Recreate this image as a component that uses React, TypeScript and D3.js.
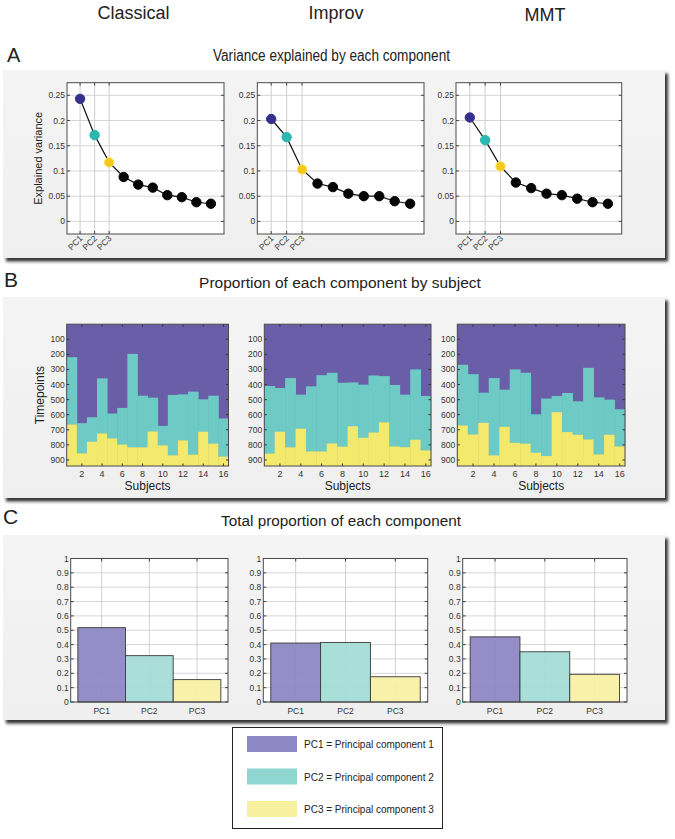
import React from "react";
import * as d3 from "d3";

// ---------- DATA ----------
const groups = ["Classical", "Improv", "MMT"];
const componentLabels = ["PC1", "PC2", "PC3"];
const legendLabels = [
  "PC1 = Principal component 1",
  "PC2 = Principal component 2",
  "PC3 = Principal component 3",
];

// Panel A: variance explained by components 1..10
const varClassical = [0.243, 0.171, 0.117, 0.088, 0.073, 0.067, 0.052, 0.048, 0.038, 0.035];
const varImprov = [0.203, 0.167, 0.103, 0.075, 0.068, 0.055, 0.05, 0.05, 0.04, 0.035];
const varMMT = [0.206, 0.161, 0.109, 0.077, 0.066, 0.055, 0.052, 0.045, 0.038, 0.035];
const varTicks = [0, 0.05, 0.1, 0.15, 0.2, 0.25];

// Panel B: timepoint where PC2 starts and where PC3 starts, per subject (1..16)
const subjects = d3.range(1, 17);
const pc2StartClassical = [219, 656, 617, 359, 592, 555, 197, 474, 487, 674, 469, 465, 447, 498, 474, 625];
const pc3StartClassical = [665, 856, 779, 724, 757, 798, 816, 816, 711, 803, 869, 770, 865, 713, 792, 878];
const pc2StartImprov = [410, 423, 357, 467, 412, 338, 322, 388, 386, 401, 340, 344, 403, 467, 300, 476];
const pc3StartImprov = [858, 713, 816, 693, 843, 843, 790, 812, 676, 753, 718, 650, 810, 815, 766, 836];
const pc2StartMMT = [269, 331, 454, 357, 434, 300, 322, 597, 493, 476, 456, 511, 289, 485, 500, 564];
const pc3StartMMT = [671, 731, 654, 869, 680, 786, 792, 852, 874, 583, 715, 733, 764, 863, 733, 810];
const totalTimepoints = 940;
const timeTicks = [100, 200, 300, 400, 500, 600, 700, 800, 900];
const subjectTicks = [2, 4, 6, 8, 10, 12, 14, 16];

// Panel C: total proportion of each component
const totalClassical = [0.518, 0.323, 0.156];
const totalImprov = [0.411, 0.415, 0.176];
const totalMMT = [0.454, 0.35, 0.193];
const propTicks = [0, 0.1, 0.2, 0.3, 0.4, 0.5, 0.6, 0.7, 0.8, 0.9, 1];

// ---------- STYLE ----------
const FONT = "'Liberation Sans', Arial, Helvetica, sans-serif";
const pointColors = ["#35308c", "#2bb8b1", "#f5c81e"];
const areaColors = ["#6a5ea9", "#6ecac4", "#f3ea6d"];
const barColors = ["#8d84c2", "#a2dbd6", "#f6f0a3"];
const legendColors = ["#8f88c6", "#8ed6cf", "#f6f09f"];

const varSets = [varClassical, varImprov, varMMT];
const pc2Sets = [pc2StartClassical, pc2StartImprov, pc2StartMMT];
const pc3Sets = [pc3StartClassical, pc3StartImprov, pc3StartMMT];
const totalSets = [totalClassical, totalImprov, totalMMT];

const aFrames = [
  [67, 224],
  [257.3, 424],
  [456, 621.7],
];
const bFrames = [
  [66.7, 228.5],
  [264.3, 431],
  [457.3, 625],
];
const cFrames = [
  [70.7, 228],
  [263.3, 427.7],
  [462.7, 627],
];

function fmt(v: number) {
  return d3.format("~g")(+v.toFixed(2));
}

function PanelA({ idx }: { idx: number }) {
  const [x0, x1] = aFrames[idx];
  const top = 82.7,
    bottom = 234;
  const x = d3.scaleLinear().domain([0.1, 10.9]).range([x0, x1]);
  const y = d3.scaleLinear().domain([-0.025, 0.275]).range([bottom, top]);
  const data = varSets[idx];
  const line = d3
    .line<number>()
    .x((_, i) => x(i + 1))
    .y((d) => y(d));
  return (
    <g>
      <rect x={x0} y={top} width={x1 - x0} height={bottom - top} fill="#fff" />
      {varTicks.map((t) => (
        <line key={"h" + t} x1={x0} x2={x1} y1={y(t)} y2={y(t)} stroke="#d6d6d6" strokeWidth={1} />
      ))}
      {[1, 2, 3].map((t) => (
        <line key={"v" + t} x1={x(t)} x2={x(t)} y1={top} y2={bottom} stroke="#cfcfcf" strokeWidth={1} />
      ))}
      {varTicks.map((t) => (
        <g key={"t" + t}>
          <line x1={x0} x2={x0 + 3} y1={y(t)} y2={y(t)} stroke="#444" />
          <line x1={x1} x2={x1 - 3} y1={y(t)} y2={y(t)} stroke="#444" />
          <text x={x0 - 2} y={y(t) + 3} fontSize={8.5} textAnchor="end" fill="#333" fontFamily={FONT}>
            {fmt(t)}
          </text>
        </g>
      ))}
      {[1, 2, 3].map((t, i) => (
        <g key={"xt" + t}>
          <line x1={x(t)} x2={x(t)} y1={bottom} y2={bottom - 3} stroke="#444" />
          <line x1={x(t)} x2={x(t)} y1={top} y2={top + 3} stroke="#444" />
          <text
            transform={`translate(${x(t) + 3},${bottom + 5}) rotate(-45)`}
            fontSize={8.5}
            textAnchor="end"
            fill="#333"
            fontFamily={FONT}
          >
            {componentLabels[i]}
          </text>
        </g>
      ))}
      <rect x={x0} y={top} width={x1 - x0} height={bottom - top} fill="none" stroke="#4a4a4a" strokeWidth={1} />
      <path d={line(data) || ""} fill="none" stroke="#111" strokeWidth={1.2} />
      {data.map((d, i) => (
        <circle
          key={i}
          cx={x(i + 1)}
          cy={y(d)}
          r={4.7}
          fill={i < 3 ? pointColors[i] : "#050505"}
          stroke={i === 2 ? "#fbe54a" : i < 3 ? pointColors[i] : "#050505"}
          strokeWidth={1}
        />
      ))}
      {idx === 0 && (
        <text
          transform={`translate(42,${(top + bottom) / 2}) rotate(-90)`}
          fontSize={11}
          textAnchor="middle"
          fill="#222"
          fontFamily={FONT}
        >
          Explained variance
        </text>
      )}
    </g>
  );
}

function PanelB({ idx }: { idx: number }) {
  const [x0, x1] = bFrames[idx];
  const top = 324.2,
    bottom = 466;
  const x = d3.scaleLinear().domain([0.5, 16.5]).range([x0, x1]);
  const y = d3.scaleLinear().domain([0, totalTimepoints]).range([top, bottom]);
  const p2 = pc2Sets[idx];
  const p3 = pc3Sets[idx];
  return (
    <g>
      <rect x={x0} y={top} width={x1 - x0} height={bottom - top} fill={areaColors[0]} />
      {subjects.map((s, i) => (
        <g key={s}>
          <rect
            x={x(s - 0.5)}
            width={x(s + 0.5) - x(s - 0.5) + 0.4}
            y={y(p2[i])}
            height={y(p3[i]) - y(p2[i]) + 0.4}
            fill={areaColors[1]}
          />
          <rect
            x={x(s - 0.5)}
            width={x(s + 0.5) - x(s - 0.5) + 0.4}
            y={y(p3[i])}
            height={bottom - y(p3[i])}
            fill={areaColors[2]}
          />
        </g>
      ))}
      {timeTicks.map((t) => (
        <g key={t}>
          <line x1={x0} x2={x0 + 2.5} y1={y(t)} y2={y(t)} stroke="#333" />
          <line x1={x1} x2={x1 - 2.5} y1={y(t)} y2={y(t)} stroke="#333" />
          <text x={x0 - 2} y={y(t) + 3} fontSize={8.5} textAnchor="end" fill="#333" fontFamily={FONT}>
            {t}
          </text>
        </g>
      ))}
      {subjectTicks.map((t) => (
        <g key={"s" + t}>
          <line x1={x(t)} x2={x(t)} y1={top} y2={top + 2.5} stroke="#333" />
          <line x1={x(t)} x2={x(t)} y1={bottom} y2={bottom - 2.5} stroke="#333" />
          <text x={x(t)} y={bottom + 11} fontSize={9} textAnchor="middle" fill="#333" fontFamily={FONT}>
            {t}
          </text>
        </g>
      ))}
      <rect x={x0} y={top} width={x1 - x0} height={bottom - top} fill="none" stroke="#4a4a4a" strokeWidth={1} />
      <text x={(x0 + x1) / 2} y={490} fontSize={12} textAnchor="middle" fill="#222" fontFamily={FONT}>
        Subjects
      </text>
      {idx === 0 && (
        <text
          transform={`translate(44,${(top + bottom) / 2}) rotate(-90)`}
          fontSize={12}
          textAnchor="middle"
          fill="#222"
          fontFamily={FONT}
        >
          Timepoints
        </text>
      )}
    </g>
  );
}

function PanelC({ idx }: { idx: number }) {
  const [x0, x1] = cFrames[idx];
  const top = 558.5,
    bottom = 702;
  const x = d3.scaleLinear().domain([0.35, 3.65]).range([x0, x1]);
  const y = d3.scaleLinear().domain([0, 1]).range([bottom, top]);
  const vals = totalSets[idx];
  return (
    <g>
      <rect x={x0} y={top} width={x1 - x0} height={bottom - top} fill="#fff" />
      {propTicks.map((t) => (
        <line key={"h" + t} x1={x0} x2={x1} y1={y(t)} y2={y(t)} stroke="#d6d6d6" />
      ))}
      {[1, 2, 3].map((t) => (
        <line key={"v" + t} x1={x(t)} x2={x(t)} y1={top} y2={bottom} stroke="#d0d0d0" />
      ))}
      {vals.map((v, i) => (
        <rect
          key={i}
          x={x(i + 0.5)}
          width={x(i + 1.5) - x(i + 0.5)}
          y={y(v)}
          height={bottom - y(v)}
          fill={barColors[i]}
          fillOpacity={0.93}
          stroke="#3a3a3a"
          strokeWidth={0.9}
        />
      ))}
      {propTicks.map((t) => (
        <g key={"t" + t}>
          <line x1={x0} x2={x0 + 3} y1={y(t)} y2={y(t)} stroke="#444" />
          <line x1={x1} x2={x1 - 3} y1={y(t)} y2={y(t)} stroke="#444" />
          <text x={x0 - 2} y={y(t) + 3} fontSize={8.5} textAnchor="end" fill="#333" fontFamily={FONT}>
            {fmt(t)}
          </text>
        </g>
      ))}
      {[1, 2, 3].map((t, i) => (
        <g key={"x" + t}>
          <line x1={x(t)} x2={x(t)} y1={top} y2={top + 3} stroke="#444" />
          <text x={x(t)} y={bottom + 12} fontSize={8.5} textAnchor="middle" fill="#333" fontFamily={FONT}>
            {componentLabels[i]}
          </text>
        </g>
      ))}
      <rect x={x0} y={top} width={x1 - x0} height={bottom - top} fill="none" stroke="#4a4a4a" strokeWidth={1} />
    </g>
  );
}

function PanelBox({ y, h }: { y: number; h: number }) {
  return <rect x={3} y={y} width={662} height={h} fill="url(#boxGrad)" filter="url(#boxShadow)" />;
}

export default function App() {
  const headerX = [133.5, 336, 545];
  return (
    <svg
      width={675}
      height={839}
      style={{ position: "absolute", left: 0, top: 0, background: "#fff" }}
      fontFamily={FONT}
    >
      <defs>
        <filter id="boxShadow" x="-5%" y="-5%" width="115%" height="120%">
          <feDropShadow dx={3} dy={3.5} stdDeviation={1.6} floodColor="#1e1e1e" floodOpacity={0.9} />
        </filter>
        <linearGradient id="boxGrad" x1="0" y1="0" x2="0" y2="1">
          <stop offset="0" stopColor="#f4f4f4" />
          <stop offset="1" stopColor="#efefef" />
        </linearGradient>
      </defs>

      {groups.map((g, i) => (
        <text key={g} x={headerX[i]} y={i === 2 ? 21 : 19} fontSize={18} textAnchor="middle" fill="#222">
          {g}
        </text>
      ))}

      {/* Panel A */}
      <text x={7} y={62} fontSize={20} fill="#222">
        A
      </text>
      <text x={331.5} y={61} fontSize={16} textAnchor="middle" fill="#222" textLength={237} lengthAdjust="spacingAndGlyphs">
        Variance explained by each component
      </text>
      <PanelBox y={70} h={188} />
      {[0, 1, 2].map((i) => (
        <PanelA key={i} idx={i} />
      ))}

      {/* Panel B */}
      <text x={4} y={287} fontSize={21} fill="#222">
        B
      </text>
      <text x={340} y={287.5} fontSize={15.5} textAnchor="middle" fill="#222">
        Proportion of each component by subject
      </text>
      <PanelBox y={297} h={201} />
      {[0, 1, 2].map((i) => (
        <PanelB key={i} idx={i} />
      ))}

      {/* Panel C */}
      <text x={3} y={524} fontSize={21} fill="#222">
        C
      </text>
      <text x={341} y={526} fontSize={15.3} textAnchor="middle" fill="#222">
        Total proportion of each component
      </text>
      <PanelBox y={535} h={185} />
      {[0, 1, 2].map((i) => (
        <PanelC key={i} idx={i} />
      ))}

      {/* Legend */}
      <rect x={232.5} y={727.5} width={210} height={101} fill="#fff" stroke="#222" strokeWidth={1} />
      {legendLabels.map((l, i) => (
        <g key={l}>
          <rect x={247} y={736 + i * 32.5} width={50} height={16} fill={legendColors[i]} />
          <text x={304} y={748 + i * 32.5} fontSize={10} fill="#222">
            {l}
          </text>
        </g>
      ))}
    </svg>
  );
}
